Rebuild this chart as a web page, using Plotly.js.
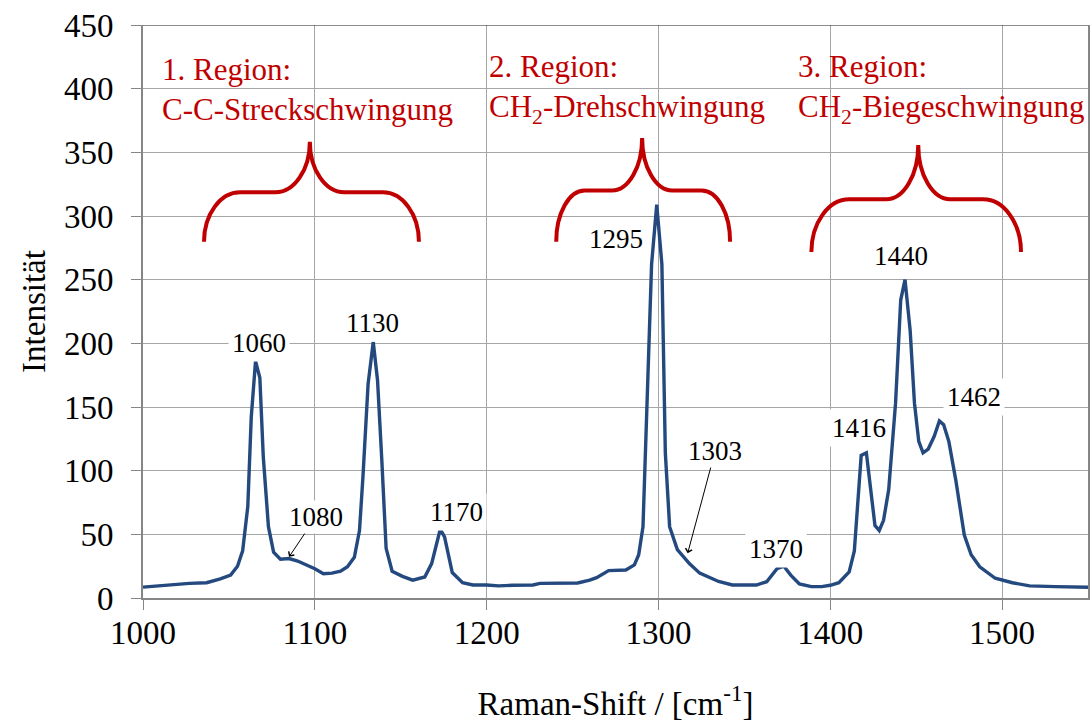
<!DOCTYPE html>
<html>
<head>
<meta charset="utf-8">
<script src="https://cdn.plot.ly/plotly-3.0.1.min.js"></script>
<style>html,body{margin:0;padding:0;background:#fff;}#chart{width:1092px;height:725px;}</style>
</head>
<body>
<div id="chart"></div>
<script>
// Raman shift (cm^-1)
const ramanShift = [1000,1008,1017,1027,1037,1045,1051,1055,1058,1061,1063,1065.5,1068,1070,1073,1076,1080,1085,1090,1095,1100,1105,1110,1115,1119,1123,1126,1128,1131,1134,1136.5,1139,1141.5,1145,1151,1157,1164,1168,1173,1175.5,1180,1186,1192,1200,1207,1215,1227,1231,1240,1253,1260,1264,1271,1276,1281,1286,1288.5,1291,1293,1296,1299,1302,1304,1306.5,1311,1318,1324,1329,1335,1343,1350,1357,1363,1369,1373,1377,1382,1389,1395,1400,1405,1411,1414,1418,1421,1424,1426,1428.5,1431,1434,1438,1441,1443.5,1446.5,1449,1451.5,1454,1457,1460.5,1463.5,1466,1469,1473,1478,1482,1487,1496,1506,1516,1531,1550];
// Intensity
const intensity = [8.5,9.5,10.5,11.5,12,15,18,25,37,72,142,186,173,111,56,36,30.5,31,29,26,23,19,19.5,21,24.5,32,53,95,168,201,171,108,39,21,17,14,16.5,27,54,48,20,12,10.2,10.2,9.5,10,10.2,11.5,11.5,11.8,14,16,21.5,22,22,26,34,56,145,262,309,262,114,56,38,27,19.5,16.5,13,10.2,10,10.2,12.8,23,25,18,11,8.9,8.9,10,12,20.5,37,112,114,80,57,53,61,85,153,234,250,210,153,123,114,117,127,139,136,123,93,49.5,34,24.5,15.5,12,9.5,8.9,8.4];

// Peak labels without pointer
const peakLabels = ["1060","1130","1170","1295","1370","1416","1440","1462"];
const peakLabelX = [1067.4,1133.7,1182.6,1275,1368.6,1416.9,1441,1483.7];
const peakLabelY = [200.3,216,67.5,282,38.5,133.9,268.6,157.5];

// Peak labels with pointer arrow (label centre -> curve point)
const pointerLabels = ["1080","1303"];
const pointerLabelX = [1100.6,1333];
const pointerLabelY = [63.6,115.4];
const pointerToX = [1085.0,1317.0];
const pointerToY = [32.3,35.1];

// Regions
const regionTexts = ["1. Region:<br>C-C-Streckschwingung","2. Region:<br>CH<sub>2</sub>-Drehschwingung","3. Region:<br>CH<sub>2</sub>-Biegeschwingung"];
const regionTextX = [1009.9,1200,1380.2];
const regionTextY = [399.4,399.4,399.4];

// Curly braces: left, center, right x; bottom, middle, tip y; curve widths
const braceLeft = [1035.5,1240.5,1389];
const braceCenter = [1097.1,1290.5,1451.2];
const braceRight = [1160.6,1341.7,1511];
const braceBottom = [279.8,279.8,271.7];
const braceMid = [318.6,320,313.1];
const braceTip = [358.4,361.3,355.8];
const braceEndCurve = [21,16.5,22];
const braceTipCurve = [20,17.5,18.6];

const serif = "Liberation Serif";
const red = "#C00000";

function bracePath(i){
  const xl=braceLeft[i], xc=braceCenter[i], xr=braceRight[i];
  const yb=braceBottom[i], ym=braceMid[i], yt=braceTip[i];
  const a=braceEndCurve[i], b=braceTipCurve[i];
  const h=ym-yb, g=yt-ym;
  return `M ${xl},${yb} C ${xl},${yb+0.55*h} ${xl+0.45*a},${ym} ${xl+a},${ym}` +
    ` L ${xc-b},${ym} C ${xc-0.45*b},${ym} ${xc},${ym+0.45*g} ${xc},${yt}` +
    ` C ${xc},${ym+0.45*g} ${xc+0.45*b},${ym} ${xc+b},${ym}` +
    ` L ${xr-a},${ym} C ${xr-0.45*a},${ym} ${xr},${yb+0.55*h} ${xr},${yb}`;
}

const shapes = braceLeft.map((_, i) => ({
  type: 'path', xref: 'x', yref: 'y', path: bracePath(i),
  line: {color: red, width: 4}
}));
shapes.push({type:'line', xref:'x', yref:'y', x0:1000, x1:1550, y0:450, y1:450, line:{color:'#1a1a1a', width:1}});

const annotations = [];
peakLabels.forEach((t, i) => annotations.push({
  x: peakLabelX[i], y: peakLabelY[i], xref: 'x', yref: 'y', text: t, showarrow: false,
  font: {family: serif, size: 27, color: '#000'}, bgcolor: '#fff', borderpad: 3
}));
pointerLabels.forEach((t, i) => annotations.push({
  x: pointerToX[i], y: pointerToY[i], ax: pointerLabelX[i], ay: pointerLabelY[i],
  xref: 'x', yref: 'y', axref: 'x', ayref: 'y', text: t, showarrow: true,
  font: {family: serif, size: 27, color: '#000'}, bgcolor: '#fff', borderpad: 1,
  arrowhead: 4, arrowsize: 1.3, arrowwidth: 1, arrowcolor: '#000', standoff: 0, startstandoff: 0
}));
regionTexts.forEach((t, i) => annotations.push({
  x: regionTextX[i], y: regionTextY[i], xref: 'x', yref: 'y', xanchor: 'left', yanchor: 'middle',
  align: 'left', text: t, showarrow: false, font: {family: serif, size: 31, color: red}
}));

const trace = {
  x: ramanShift, y: intensity, type: 'scatter', mode: 'lines',
  line: {color: '#24497F', width: 3.4}, hoverinfo: 'skip'
};

const layout = {
  width: 1092, height: 725,
  margin: {l: 143, r: 4, t: 25, b: 127},
  paper_bgcolor: '#fff', plot_bgcolor: '#fff',
  showlegend: false,
  font: {family: serif, size: 33, color: '#000'},
  xaxis: {
    range: [1000, 1550], tick0: 1000, dtick: 100, showgrid: true, gridcolor: '#A6A6A6', gridwidth: 1,
    showline: true, linecolor: '#868686', linewidth: 2, zeroline: false,
    ticks: 'outside', ticklen: 10, tickcolor: '#868686', tickwidth: 1,
    ticklabelstandoff: -6,
    tickfont: {family: serif, size: 33, color: '#000'},
    title: {text: 'Raman-Shift / [cm<sup>-1</sup>]', font: {family: serif, size: 33, color: '#000'}, standoff: 42}
  },
  yaxis: {
    range: [0, 450], tick0: 0, dtick: 50, showgrid: true, gridcolor: '#A6A6A6', gridwidth: 1,
    showline: true, mirror: true, linecolor: '#868686', linewidth: 2, zeroline: false,
    ticks: 'outside', ticklen: 10, tickcolor: '#868686', tickwidth: 1,
    ticklabelstandoff: 11,
    tickfont: {family: serif, size: 33, color: '#000'},
    title: {text: 'Intensität', font: {family: serif, size: 33, color: '#000'}, standoff: 8}
  },
  shapes: shapes,
  annotations: annotations
};

Plotly.newPlot('chart', [trace], layout, {displayModeBar: false, staticPlot: true});
</script>
</body>
</html>
